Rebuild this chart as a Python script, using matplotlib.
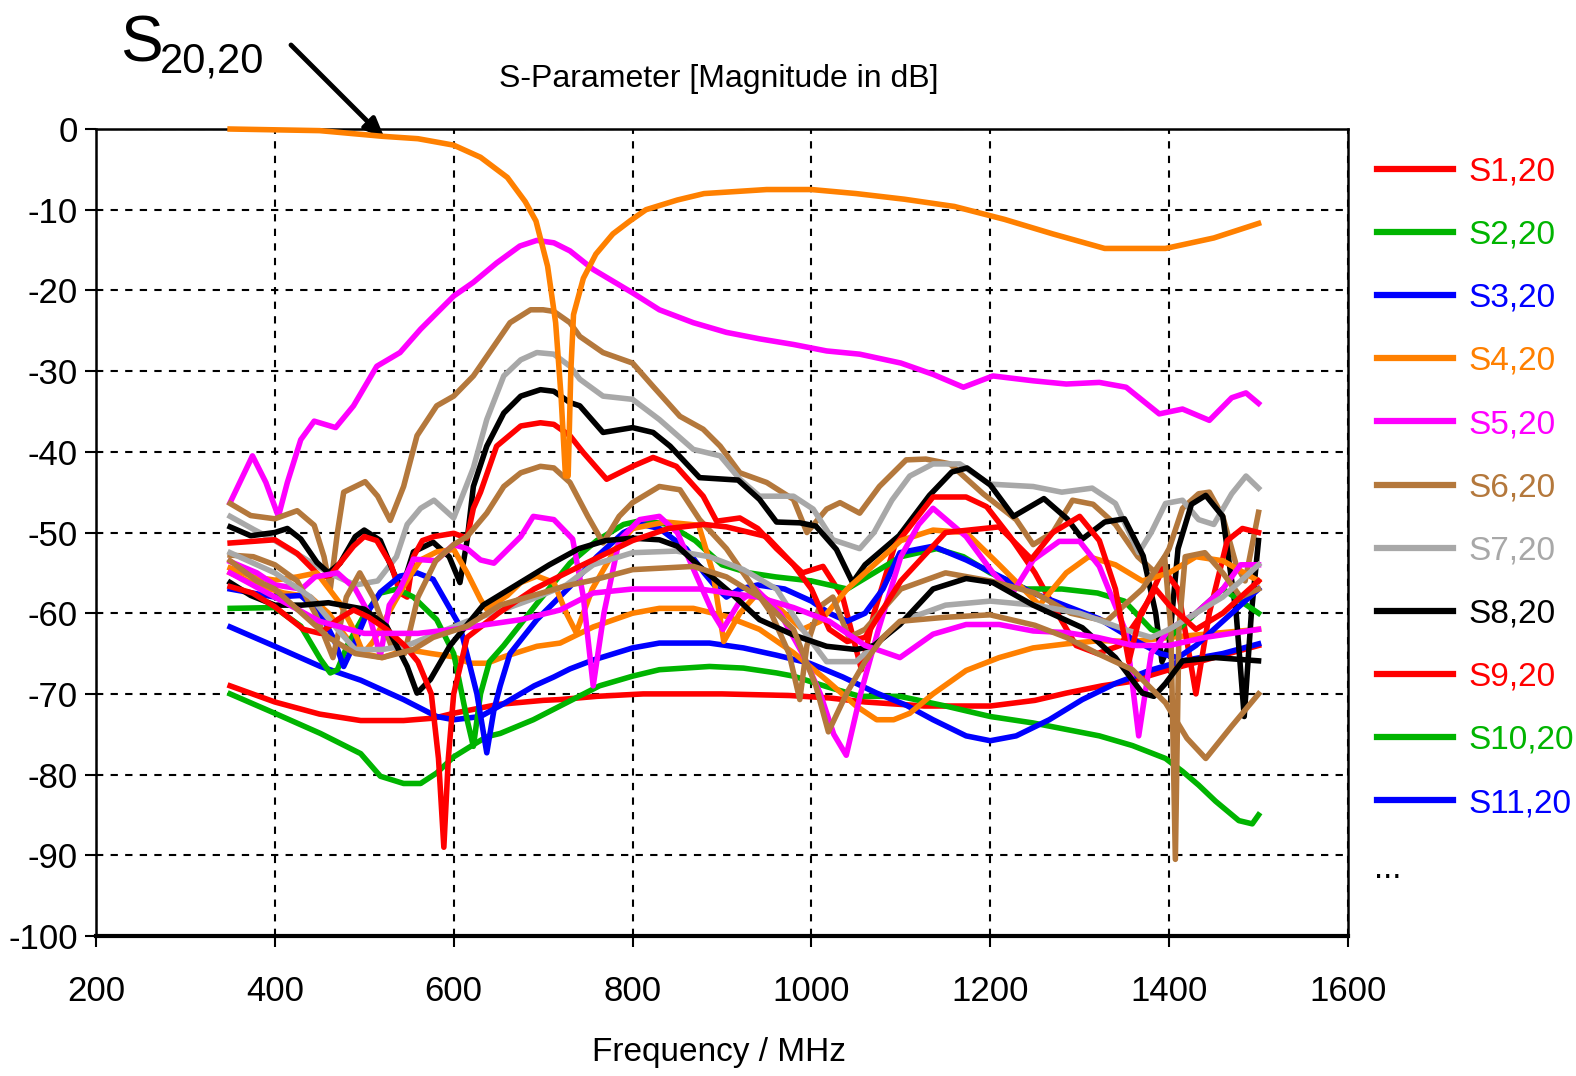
import matplotlib
matplotlib.use('Agg')
import matplotlib.pyplot as plt

plt.rcParams['font.family'] = ['Liberation Sans', 'DejaVu Sans']
plt.rcParams['axes.unicode_minus'] = False

# ---- data (frequency in MHz, magnitude in dB) ----
f_s1 = [350, 400, 450, 496, 544, 578, 600, 650, 700, 719, 760, 812, 900, 976, 1020, 1060, 1100, 1126, 1200, 1250, 1285, 1325, 1355, 1400, 1450, 1500]
db_s1 = [-69, -71, -72.5, -73.3, -73.3, -73, -72.4, -71.3, -70.8, -70.7, -70.3, -70, -70, -70.2, -70.5, -71, -71.3, -71.5, -71.5, -70.8, -69.9, -69, -68.5, -67, -65.5, -64]

f_s2 = [350, 400, 451, 496, 518, 544, 563, 581, 600, 619, 637, 652, 689, 726, 763, 800, 830, 886, 924, 961, 980, 1017, 1054, 1099, 1150, 1200, 1248, 1285, 1322, 1359, 1396, 1415, 1433, 1452, 1478, 1493, 1500]
db_s2 = [-70, -72.4, -74.9, -77.4, -80.2, -81.1, -81.1, -79.8, -77.8, -76.5, -75.3, -74.9, -73.2, -71.1, -69, -67.8, -67, -66.6, -66.8, -67.4, -67.8, -69.1, -70.3, -70.3, -71.5, -72.8, -73.6, -74.4, -75.2, -76.4, -78, -79.6, -81.3, -83.3, -85.7, -86.1, -85]

f_s3 = [350, 400, 451, 496, 544, 581, 600, 630, 656, 690, 712, 730, 756, 800, 830, 886, 924, 961, 998, 1035, 1073, 1106, 1136, 1173, 1200, 1229, 1266, 1303, 1340, 1378, 1415, 1460, 1500]
db_s3 = [-61.7, -64.1, -66.6, -68.3, -70.7, -72.8, -73.2, -72.8, -71.2, -69, -67.9, -66.9, -65.8, -64.3, -63.7, -63.7, -64.3, -65.2, -66.2, -67.9, -69.9, -71.4, -73.2, -75.2, -75.8, -75.2, -73.2, -70.7, -68.7, -67.1, -65.9, -65, -63.8]

f_s4 = [350, 380, 410, 440, 460, 480, 499, 520, 548, 575, 600, 619, 637, 656, 693, 719, 756, 800, 830, 868, 905, 942, 980, 1017, 1050, 1073, 1092, 1110, 1136, 1173, 1210, 1248, 1285, 1322, 1360, 1400, 1450, 1500]
db_s4 = [-55, -56.5, -57.5, -58, -60, -63, -65, -65.5, -64.5, -65, -65.4, -66.2, -66.2, -65.4, -64.1, -63.7, -61.7, -60, -59.4, -59.4, -60.4, -62, -64.9, -68.3, -71.5, -73.2, -73.2, -72.4, -70, -67.1, -65.5, -64.3, -63.8, -63.4, -63.5, -63, -62.5, -62]

f_s5 = [350, 375, 390, 404, 414, 429, 444, 468, 488, 514, 540, 563, 600, 622, 648, 674, 693, 712, 730, 756, 800, 830, 868, 905, 942, 980, 1017, 1054, 1100, 1136, 1170, 1203, 1248, 1285, 1322, 1352, 1389, 1415, 1445, 1470, 1486, 1500]
db_s5 = [-46.3, -40.5, -43.8, -48, -43.8, -38.5, -36.2, -37, -34.3, -29.4, -27.7, -24.8, -20.7, -19, -16.6, -14.5, -13.8, -14.1, -15.1, -17.4, -20.3, -22.4, -24, -25.2, -26, -26.7, -27.5, -27.9, -29, -30.4, -32, -30.6, -31.2, -31.6, -31.4, -32, -35.3, -34.7, -36.1, -33.3, -32.7, -34]

f_s6 = [350, 373, 400, 425, 444, 455, 462, 470, 477, 501, 515, 529, 544, 559, 581, 600, 622, 645, 663, 686, 700, 712, 730, 741, 767, 800, 823, 853, 879, 898, 920, 950, 980, 995, 1017, 1032, 1054, 1076, 1106, 1128, 1155, 1192, 1229, 1248, 1270, 1292, 1315, 1340, 1365, 1385, 1400, 1415, 1433, 1445, 1460, 1475, 1485, 1500]
db_s6 = [-46.4, -47.9, -48.3, -47.3, -49.1, -53, -57, -50, -45, -43.7, -45.5, -48.5, -44.3, -38, -34.3, -33.1, -30.6, -26.9, -24, -22.4, -22.4, -22.6, -24, -25.7, -27.7, -29, -31.9, -35.6, -37.2, -39.3, -42.6, -43.8, -45.9, -50, -47.1, -46.3, -47.6, -44.3, -41, -40.9, -41.5, -45.2, -48.4, -51.5, -50, -46, -46.5, -49, -53, -55, -52, -47, -45.2, -45, -48, -54, -56, -47.5]

f_s7 = [350, 376, 400, 430, 460, 490, 515, 536, 548, 563, 578, 600, 622, 637, 656, 675, 693, 712, 730, 741, 767, 800, 830, 868, 898, 920, 942, 980, 1002, 1024, 1054, 1070, 1090, 1110, 1136, 1166, 1199, 1248, 1280, 1314, 1340, 1366, 1380, 1396, 1415, 1433, 1450, 1470, 1486, 1500]
db_s7 = [-48, -49.6, -51, -53, -55, -56.5, -56, -53, -49, -47, -46, -48.2, -42, -36, -30.6, -28.6, -27.7, -27.9, -29.4, -31, -33.1, -33.5, -36, -39.7, -40.5, -43.4, -45.5, -45.5, -47.1, -50.9, -52, -50, -46, -43, -41.5, -41.5, -44, -44.3, -45, -44.5, -46.4, -52.5, -50, -46.4, -46, -48.4, -49, -45.2, -43, -44.5]

f_s8 = [350, 373, 400, 414, 429, 447, 460, 473, 490, 500, 518, 533, 542, 555, 577, 595, 607, 615, 622, 637, 656, 675, 697, 712, 730, 741, 767, 800, 823, 842, 875, 918, 942, 961, 987, 1005, 1028, 1046, 1060, 1098, 1132, 1157, 1174, 1200, 1226, 1260, 1286, 1303, 1328, 1350, 1371, 1385, 1392, 1400, 1410, 1425, 1441, 1460, 1475, 1484, 1492, 1500]
db_s8 = [-49.3, -50.4, -50, -49.5, -50.8, -53.7, -55, -53.8, -50.5, -49.7, -51, -55, -57, -52.4, -51.2, -53, -56.2, -51, -44.3, -39.3, -35.2, -33.1, -32.3, -32.5, -33.9, -34.3, -37.6, -37, -37.6, -39.3, -43.2, -43.5, -45.9, -48.7, -48.8, -49.2, -52.1, -56.2, -54, -50.4, -45.4, -42.5, -42, -44.1, -48, -45.8, -48.3, -50.8, -48.7, -48.3, -52.9, -60, -66, -64, -52, -46.5, -45.4, -48, -60, -72.8, -60, -51]

f_s9 = [350, 400, 425, 451, 462, 488, 500, 514, 530, 540, 548, 555, 565, 578, 600, 615, 622, 630, 648, 675, 697, 712, 730, 745, 771, 800, 823, 849, 879, 894, 920, 940, 961, 990, 1013, 1035, 1056, 1070, 1093, 1136, 1173, 1196, 1222, 1250, 1275, 1296, 1320, 1345, 1370, 1393, 1410, 1430, 1445, 1465, 1482, 1500]
db_s9 = [-51.3, -50.9, -52.6, -55.5, -55.3, -51.7, -50.5, -51, -54, -57.5, -58, -53, -51, -50.5, -50.1, -50.7, -47, -45, -39.3, -36.8, -36.4, -36.6, -38, -40.1, -43.4, -41.8, -40.7, -41.8, -45.5, -48.6, -48.2, -49.5, -52, -55, -54.2, -58, -67, -60, -51.7, -45.6, -45.6, -46.8, -50.5, -55, -60, -64, -65, -64, -60, -54.5, -57, -70, -60, -51, -49.5, -50]

f_s10 = [350, 400, 429, 451, 462, 470, 481, 499, 518, 537, 555, 581, 600, 615, 622, 630, 640, 656, 693, 730, 760, 790, 810, 840, 870, 900, 930, 960, 1000, 1040, 1070, 1100, 1140, 1170, 1200, 1240, 1280, 1320, 1350, 1380, 1400, 1430, 1460, 1500]
db_s10 = [-59.4, -59.3, -61.6, -65.7, -67.4, -67, -64, -60.4, -57.5, -57, -58, -60.8, -65, -73.2, -76.5, -70, -66, -64, -58.8, -53.8, -51, -49, -48.5, -49, -51, -54, -55, -55.5, -56, -57, -55, -53, -52, -53, -55, -57, -57, -57.5, -58.5, -62, -63, -60, -57, -60]

f_s11 = [350, 400, 429, 451, 466, 477, 488, 503, 518, 540, 559, 577, 607, 626, 637, 645, 652, 663, 693, 730, 760, 790, 810, 830, 860, 880, 895, 905, 920, 940, 970, 1000, 1020, 1040, 1060, 1080, 1099, 1136, 1173, 1210, 1248, 1285, 1322, 1359, 1390, 1410, 1430, 1460, 1500]
db_s11 = [-57, -58, -57.8, -60, -63.2, -66.6, -64, -60, -57.4, -55.4, -55, -55.8, -61.6, -70, -77.3, -72, -69, -65, -60.8, -56.7, -53, -50, -49, -49.5, -52, -55, -57, -58, -57, -56.5, -57, -58.5, -60, -61, -60, -57, -52.5, -51.7, -53.4, -55.4, -57.5, -59.1, -60.7, -63.2, -65, -65.5, -64, -61, -57]

f_s12 = [350, 376, 400, 425, 447, 473, 488, 499, 510, 533, 548, 563, 581, 600, 615, 630, 637, 660, 675, 693, 712, 726, 737, 755, 781, 800, 837, 874, 890, 902, 920, 940, 960, 990, 1010, 1040, 1070, 1100, 1136, 1173, 1210, 1255, 1285, 1310, 1340, 1370, 1400, 1430, 1460, 1500]
db_s12 = [-54.4, -55.5, -55.9, -55.5, -55, -58.8, -62, -65, -63.5, -58.8, -55.9, -53.4, -52.4, -52.1, -55, -58.3, -59.5, -57.8, -56.2, -55.4, -56.2, -60, -62.4, -57, -52, -49.5, -48.7, -49.1, -55, -63.5, -60, -57.5, -59, -62, -61, -57, -54, -51, -49.7, -50, -54, -59, -55, -53, -54, -56, -55, -53, -53.5, -56]

f_s13 = [350, 380, 400, 430, 445, 470, 490, 505, 518, 528, 540, 555, 580, 600, 615, 630, 645, 675, 689, 712, 733, 745, 756, 768, 785, 808, 830, 850, 870, 890, 901, 920, 938, 965, 990, 1010, 1025, 1039, 1055, 1075, 1100, 1120, 1136, 1173, 1203, 1225, 1248, 1277, 1300, 1322, 1352, 1366, 1380, 1400, 1430, 1460, 1480, 1500]
db_s13 = [-53.6, -55, -56.5, -57, -55.5, -55, -57, -60, -65.3, -59, -57, -53.3, -53.5, -51.5, -52, -53.4, -53.8, -50.5, -48, -48.4, -50.8, -58, -69, -60, -51, -48.4, -48, -50, -55, -60, -62, -58.5, -57, -60, -65, -70, -75, -77.6, -70, -62, -53, -49, -47, -50.5, -55, -57.5, -53.4, -51.1, -51.1, -54.2, -62.4, -75.2, -65, -62, -60, -57, -54, -54]

f_s14 = [350, 376, 400, 425, 445, 465, 480, 495, 510, 530, 545, 560, 580, 600, 615, 637, 656, 675, 697, 712, 730, 750, 767, 785, 800, 830, 853, 875, 905, 930, 955, 975, 987, 995, 1009, 1024, 1042, 1060, 1100, 1150, 1200, 1250, 1290, 1330, 1370, 1395, 1402, 1407, 1411, 1418, 1440, 1460, 1480, 1500]
db_s14 = [-52.8, -53, -54, -56, -60, -65.5, -58, -55, -58, -64, -65, -58, -53.5, -51.5, -50.5, -47.6, -44.3, -42.6, -41.8, -42, -43.8, -48, -51.3, -48, -46.3, -44.3, -44.7, -48.4, -52, -56, -60, -65, -70.7, -64, -59.2, -58, -63, -62, -57, -55, -56, -57.5, -60, -61, -57, -53, -62, -90.5, -62, -53, -52.5, -55, -58, -57]

f_s15 = [350, 400, 440, 470, 490, 520, 548, 577, 615, 652, 689, 726, 756, 800, 849, 886, 924, 961, 990, 1017, 1050, 1100, 1150, 1200, 1250, 1300, 1350, 1380, 1400, 1430, 1460, 1500]
db_s15 = [-52.5, -55, -58, -62, -64.5, -64.5, -64, -62.7, -61, -59.7, -58.2, -56.5, -54, -52.5, -52.3, -53, -54.6, -57, -62, -66, -66, -61, -59, -58.5, -59, -60, -62, -63, -62, -60, -58, -54]

f_s16 = [350, 373, 400, 430, 460, 500, 525, 548, 559, 574, 596, 633, 670, 707, 740, 770, 800, 830, 850, 875, 910, 942, 980, 1017, 1050, 1070, 1099, 1136, 1173, 1203, 1248, 1303, 1340, 1370, 1383, 1396, 1415, 1452, 1500]
db_s16 = [-56.2, -57.8, -59, -59, -58.7, -59.5, -61.6, -66.6, -69.9, -68.2, -64, -59, -56.5, -54, -52, -51, -50.7, -50.9, -51.7, -54.2, -57.5, -60.8, -62.7, -64.1, -64.5, -64, -61.4, -57, -55.7, -56.2, -59, -61.8, -65.5, -69.9, -70.3, -68.7, -65.9, -65.5, -65.9]

f_s17 = [350, 375, 400, 432, 451, 470, 488, 505, 525, 545, 560, 575, 583, 589, 594, 600, 615, 650, 690, 726, 763, 800, 840, 880, 905, 950, 980, 1000, 1020, 1040, 1060, 1100, 1150, 1210, 1246, 1270, 1300, 1322, 1340, 1355, 1368, 1385, 1400, 1430, 1460, 1500]
db_s17 = [-56.7, -57.5, -59.2, -62, -62.5, -60.8, -59.6, -60.5, -62, -64, -66, -70, -78, -89, -78, -70, -63, -60, -57, -55, -53, -51, -49.5, -49, -49.3, -50.5, -54, -57, -62, -63.5, -63, -56, -50, -49.3, -53.3, -50, -48, -51, -57, -66, -60, -57, -59, -62, -60, -56]

f_s18 = [350, 400, 450, 500, 560, 600, 675, 719, 756, 800, 875, 940, 980, 1020, 1060, 1099, 1136, 1173, 1210, 1248, 1285, 1320, 1360, 1400, 1440, 1500]
db_s18 = [-55, -58, -61, -62.5, -62.5, -62, -60.8, -59.6, -57.5, -57, -57, -58, -59.3, -61, -64, -65.5, -62.6, -61.4, -61.4, -62.2, -62.4, -63, -64, -64, -63, -62]

f_s19 = [350, 380, 400, 430, 460, 490, 520, 555, 577, 615, 652, 689, 726, 756, 800, 868, 905, 942, 980, 1005, 1019, 1040, 1060, 1080, 1099, 1150, 1200, 1250, 1285, 1320, 1359, 1396, 1420, 1441, 1470, 1500]
db_s19 = [-53.5, -56, -57, -60, -63, -65, -65.5, -64.5, -63, -61.6, -59, -57.8, -56.6, -55.9, -54.6, -54.2, -55.5, -58, -62, -69, -74.7, -69.8, -66, -63, -61, -60.5, -60.2, -61.5, -63, -65, -67, -71.1, -75.5, -78, -74, -70]

f_s20 = [350, 450, 520, 560, 600, 630, 660, 680, 692, 705, 714, 720, 725, 728, 731, 734, 745, 759, 778, 797, 815, 850, 880, 950, 1000, 1050, 1104, 1160, 1216, 1270, 1328, 1396, 1450, 1500]
db_s20 = [0, -0.2, -0.9, -1.2, -2, -3.5, -6, -9, -11.4, -17, -24, -33, -43, -43, -30, -23, -18.5, -15.5, -13, -11.4, -10, -8.8, -8, -7.5, -7.5, -8, -8.7, -9.6, -11.2, -13, -14.8, -14.8, -13.5, -11.7]

legend_labels = ['S1,20', 'S2,20', 'S3,20', 'S4,20', 'S5,20', 'S6,20',
                 'S7,20', 'S8,20', 'S9,20', 'S10,20', 'S11,20']

RED, GREEN, BLUE, ORANGE = '#ff0000', '#00b400', '#0000ff', '#ff8000'
MAGENTA, BROWN, GRAY, BLACK = '#ff00ff', '#b4783c', '#a8a8a8', '#000000'

series = [
    (f_s1, db_s1, RED), (f_s2, db_s2, GREEN), (f_s3, db_s3, BLUE),
    (f_s4, db_s4, ORANGE), (f_s5, db_s5, MAGENTA), (f_s6, db_s6, BROWN),
    (f_s7, db_s7, GRAY), (f_s8, db_s8, BLACK), (f_s9, db_s9, RED),
    (f_s10, db_s10, GREEN), (f_s11, db_s11, BLUE), (f_s12, db_s12, ORANGE),
    (f_s13, db_s13, MAGENTA), (f_s14, db_s14, BROWN), (f_s15, db_s15, GRAY),
    (f_s16, db_s16, BLACK), (f_s17, db_s17, RED), (f_s18, db_s18, MAGENTA),
    (f_s19, db_s19, BROWN),
]

fig = plt.figure(figsize=(15.76, 10.76), dpi=100)
ax = fig.add_axes([0.0609, 0.1301, 0.7944, 0.75])

handles = []
for f, d, c in series:
    ln, = ax.plot(f, d, color=c, lw=4, solid_joinstyle='round')
    handles.append(ln)
ax.plot(f_s20, db_s20, color=ORANGE, lw=4, clip_on=False, zorder=5)

ax.set_xlim(200, 1600)
ax.set_ylim(-100, 0)
ax.set_xticks(range(200, 1601, 200))
ax.set_yticks(range(-100, 1, 10))
ax.set_axisbelow(True)
ax.grid(True, color='black', linestyle=(0, (3.5, 3.5)), linewidth=1.5)
for s in ax.spines.values():
    s.set_linewidth(1.8)
ax.spines['bottom'].set_linewidth(3)
ax.tick_params(direction='out', length=8, width=1.5, labelsize=25)
ax.tick_params(axis='x', pad=20)
ax.tick_params(axis='y', pad=5)

fig.text(0.456, 1 - 79 / 1076, 'S-Parameter [Magnitude in dB]', ha='center', va='center', fontsize=23)
fig.text(0.456, 1 - 1052 / 1076, 'Frequency / MHz', ha='center', va='center', fontsize=24)

leg = ax.legend(handles[:11], legend_labels, loc='upper left', bbox_to_anchor=(1.023, 0.966),
                frameon=False, fontsize=24, labelcolor='linecolor', handlelength=2.3,
                handletextpad=0.45, labelspacing=0.965, borderaxespad=0, borderpad=0)
for h in leg.legend_handles:
    h.set_linewidth(4.5)
fig.text(1374 / 1576, 1 - 870 / 1076, '...', ha='left', va='center', fontsize=24)

# annotation of the reflection curve
fig.text(120 / 1576, 1 - 62 / 1076, 'S', fontsize=46, ha='left', va='baseline')
fig.text(160 / 1576, 1 - 73 / 1076, '20,20', fontsize=30, ha='left', va='baseline')
ax.annotate('', xy=(523, -1.2), xycoords='data', xytext=(291 / 1576, 1 - 45 / 1076),
            textcoords='figure fraction', annotation_clip=False,
            arrowprops=dict(arrowstyle='-|>,head_length=1.2,head_width=0.5', color='black', lw=3.5,
                            shrinkA=0, shrinkB=0))

fig.savefig('out.png', dpi=100)
